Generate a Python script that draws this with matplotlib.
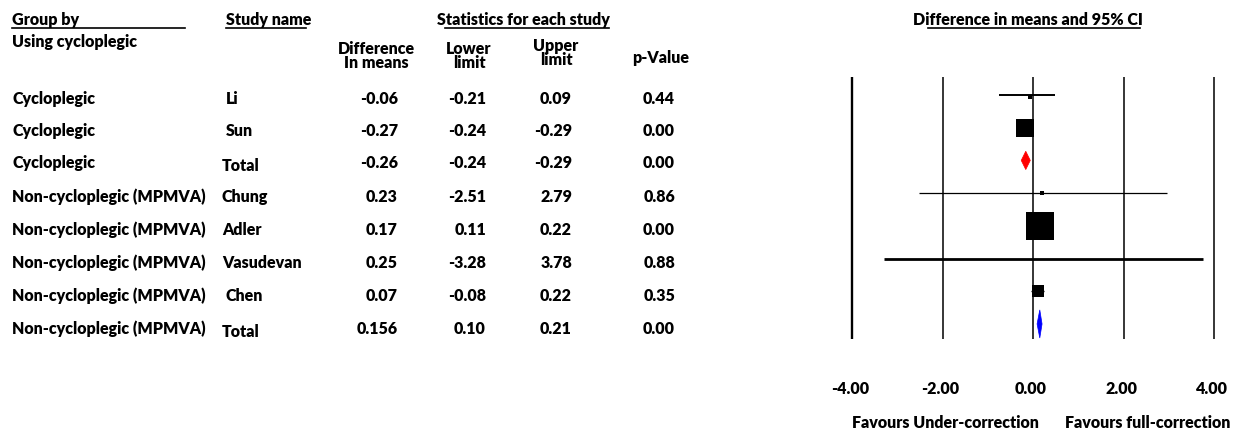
import matplotlib
matplotlib.use("Agg")
import matplotlib.pyplot as plt
from matplotlib.lines import Line2D
from matplotlib.patches import Polygon
import matplotlib.transforms as mtransforms

# ---------------- data ----------------
groups = ["Cycloplegic", "Cycloplegic", "Cycloplegic",
          "Non-cycloplegic (MPMVA)", "Non-cycloplegic (MPMVA)", "Non-cycloplegic (MPMVA)",
          "Non-cycloplegic (MPMVA)", "Non-cycloplegic (MPMVA)"]
studies = ["Li", "Sun", "Total", "Chung", "Adler", "Vasudevan", "Chen", "Total"]
diff_txt = ["-0.06", "-0.27", "-0.26", "0.23", "0.17", "0.25", "0.07", "0.156"]
lower_txt = ["-0.21", "-0.24", "-0.24", "-2.51", "0.11", "-3.28", "-0.08", "0.10"]
upper_txt = ["0.09", "-0.29", "-0.29", "2.79", "0.22", "3.78", "0.22", "0.21"]
pval_txt = ["0.44", "0.00", "0.00", "0.86", "0.00", "0.88", "0.35", "0.00"]
is_total = [False, False, True, False, False, False, False, True]

# positions as drawn in the forest plot (read from the graphic)
plot_mean = [-0.07, -0.18, -0.16, 0.20, 0.15, 0.25, 0.10, 0.15]
plot_low = [-0.75, -0.30, -0.26, -2.52, -0.10, -3.29, -0.05, 0.09]
plot_high = [0.49, -0.06, -0.06, 2.96, 0.40, 3.75, 0.25, 0.20]
weights = [2.2, 12.5, 0, 2.6, 19.5, 0.0, 8.0, 0]   # relative study weights (box size)

xticks = [-4, -2, 0, 2, 4]
xtick_labels = ["-4.00", "-2.00", "0.00", "2.00", "4.00"]

# ---------------- figure ----------------
W, H = 1234, 435
fig = plt.figure(figsize=(W / 100, H / 100), dpi=100)
plt.rcParams['font.family'] = ['Lato', 'DejaVu Sans']
FS = 11.5

def fx(px):
    return px / W

def fy(py):
    return 1 - py / H

def txt(px, py, s, ha="left", va="center", fs=FS, **kw):
    fig.text(fx(px), fy(py), s, ha=ha, va=va, fontsize=fs, fontweight="heavy", **kw)

def uline(x0, x1, py, lw=1.2):
    fig.add_artist(Line2D([fx(x0), fx(x1)], [fy(py), fy(py)], color="black", lw=lw,
                          transform=fig.transFigure))

# headers
txt(12, 20, "Group by")
uline(12, 185, 29)
txt(12, 42, "Using cycloplegic")
txt(226, 20, "Study name")
uline(226, 306, 29)
txt(523, 20, "Statistics for each study", ha="center")
uline(445, 609, 29)
txt(376, 56, "Difference\nIn means", ha="center", linespacing=0.85)
txt(469, 56, "Lower\nlimit", ha="center", linespacing=0.85)
txt(556, 53, "Upper\nlimit", ha="center", linespacing=0.85)
txt(661, 58, "p-Value", ha="center")

# table rows
row_y = [99, 131, 163, 197, 230, 263, 296, 329]
for i in range(len(studies)):
    y = row_y[i]
    txt(12, y, groups[i])
    sx = 226 if not is_total[i] else 222
    if studies[i] in ("Chung", "Adler", "Vasudevan"):
        sx = 222
    txt(sx, y + (3 if is_total[i] else 0), studies[i])
    txt(398, y, diff_txt[i], ha="right")
    txt(486, y, lower_txt[i], ha="right")
    txt(572, y, upper_txt[i], ha="right")
    txt(675, y, pval_txt[i], ha="right")

# ---------------- forest plot ----------------
ax_l, ax_r, ax_t, ax_b = 852, 1214, 78, 340
ax = fig.add_axes([fx(ax_l), fy(ax_b), fx(ax_r) - fx(ax_l), (ax_b - ax_t) / H])
ax.set_xlim(-4, 4)
n = len(studies)
ax.set_ylim(7.46, -0.55)
ax.axis("off")

for t in xticks:
    ax.vlines(t, 7.46, -0.55, color="black", lw=1.7 if t == -4 else 1.1, zorder=1,
              clip_on=False)

ci_lw = [1.4, 1.0, 1.0, 0.9, 1.0, 2.0, 1.0, 1.0]
for i in range(n):
    if is_total[i]:
        color = "red" if i == 2 else "blue"
        hh = 0.28 if i == 2 else 0.43
        m, lo, hi = plot_mean[i], plot_low[i], plot_high[i]
        ax.add_patch(Polygon([[lo, i], [m, i - hh], [hi, i], [m, i + hh]],
                             closed=True, facecolor=color, edgecolor=color, lw=0.5, zorder=3))
    else:
        ax.plot([plot_low[i], plot_high[i]], [i, i], color="black", lw=ci_lw[i], zorder=2,
                solid_capstyle="butt", clip_on=False)
        if weights[i] > 0:
            ax.plot([plot_mean[i]], [i + (0.05 if i == 0 else 0)], marker="s", color="black",
                    markersize=weights[i], markeredgewidth=0, zorder=3)

tr = mtransforms.blended_transform_factory(ax.transData, fig.transFigure)
for t, lab in zip(xticks, xtick_labels):
    ax.text(t - 0.05, fy(389), lab, transform=tr, ha="center", va="center",
            fontsize=FS, fontweight="heavy")

txt(1028, 20, "Difference in means and 95% CI", ha="center")
uline(928, 1140, 29)
txt(945, 423, "Favours Under-correction", ha="center")
txt(1148, 423, "Favours full-correction", ha="center")

fig.savefig("out.png", dpi=100)
